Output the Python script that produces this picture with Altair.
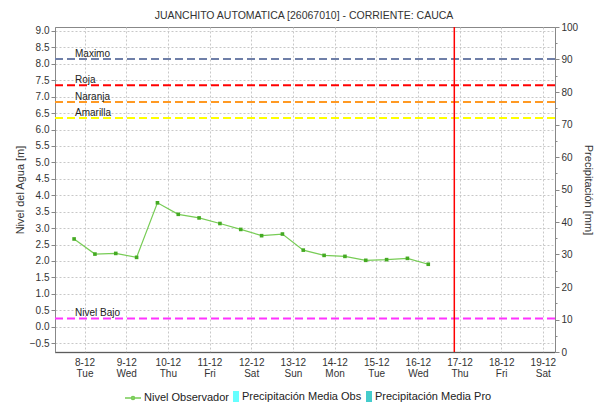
import altair as alt
import pandas as pd

FONT = "Liberation Sans"
TITLE = "JUANCHITO AUTOMATICA [26067010] - CORRIENTE: CAUCA"

# Observed water level (every 12 h)
obs_times = [
    "2020-12-07T18:00:00Z", "2020-12-08T06:00:00Z", "2020-12-08T18:00:00Z",
    "2020-12-09T06:00:00Z", "2020-12-09T18:00:00Z", "2020-12-10T06:00:00Z",
    "2020-12-10T18:00:00Z", "2020-12-11T06:00:00Z", "2020-12-11T18:00:00Z",
    "2020-12-12T06:00:00Z", "2020-12-12T18:00:00Z", "2020-12-13T06:00:00Z",
    "2020-12-13T18:00:00Z", "2020-12-14T06:00:00Z", "2020-12-14T18:00:00Z",
    "2020-12-15T06:00:00Z", "2020-12-15T18:00:00Z", "2020-12-16T06:00:00Z",
]
obs_levels = [2.67, 2.21, 2.23, 2.11, 3.77, 3.42, 3.31, 3.14, 2.96,
              2.77, 2.82, 2.33, 2.17, 2.14, 2.02, 2.04, 2.08, 1.90]

# Threshold levels
thr_names = ["Maximo", "Roja", "Naranja", "Amarilla", "Nivel Bajo"]
thr_values = [8.15, 7.35, 6.84, 6.35, 0.25]
thr_colors = ["#6F7FA8", "#FF0000", "#FF9922", "#FFFF00", "#FF33FF"]

# Current time marker
now_time = ["2020-12-16T21:00:00Z"]

# Legend series
level_series = ["Nivel Observador"]
precip_series = ["Precipitación Media Obs", "Precipitación Media Pro"]
precip_colors = ["#66FFFF", "#44CCCC"]

# Axis ticks
tick_days = [8, 9, 10, 11, 12, 13, 14, 15, 16, 17, 18, 19]
y_ticks = [-0.5, 0.0, 0.5, 1.0, 1.5, 2.0, 2.5, 3.0, 3.5, 4.0, 4.5, 5.0,
           5.5, 6.0, 6.5, 7.0, 7.5, 8.0, 8.5, 9.0]
y2_ticks = [0, 5, 10, 15, 20, 25, 30, 35, 40, 45, 50, 55, 60, 65, 70,
            75, 80, 85, 90, 95, 100]

obs_df = pd.DataFrame({"t": obs_times, "v": obs_levels,
                       "serie": level_series * len(obs_times)})
thr_df = pd.DataFrame({"name": thr_names, "v": thr_values})
now_df = pd.DataFrame({"t": now_time})
title_df = pd.DataFrame({"title": [TITLE]})
precip_df = pd.DataFrame({"t": [obs_times[0], obs_times[1]],
                          "p": [None, None],
                          "serie": precip_series})

grid_color = "#C8C8C8"
axis_color = "#888888"
text_color = "#333333"

x_scale = alt.Scale(type="utc", domain=[
    alt.DateTime(year=2020, month=12, date=7, hours=7, utc=True),
    alt.DateTime(year=2020, month=12, date=19, hours=7, utc=True)])
x_axis = alt.Axis(
    values=[alt.DateTime(year=2020, month=12, date=d, utc=True) for d in tick_days],
    labelExpr="[utcFormat(datum.value, '%-d-%m'), utcFormat(datum.value, '%a')]",
    title=None, ticks=False, labelPadding=5, labelLineHeight=11,
    labelFont=FONT, labelFontSize=10, labelColor=text_color,
    domainColor="#333333", domainDash=[1, 1], domainWidth=1.5,
    grid=True, gridColor=grid_color, gridDash=[2, 2], gridWidth=1,
    labelAlign="center", labelBaseline="top")
X = lambda: alt.X("t:T", scale=x_scale, axis=x_axis)

y_scale = alt.Scale(domain=[-0.77, 9.12], nice=False, zero=False)
y_axis = alt.Axis(
    values=y_ticks, format=".1f", title="Nivel del Agua [m]",
    titleFont=FONT, titleFontSize=11, titleFontWeight="normal",
    titleColor=text_color, titlePadding=4,
    labelFont=FONT, labelFontSize=10, labelColor=text_color, labelPadding=2,
    tickSize=4, tickColor=axis_color, domainColor=axis_color,
    grid=True, gridColor=grid_color, gridDash=[2, 2], gridWidth=1)
Y = lambda: alt.Y("v:Q", scale=y_scale, axis=y_axis)

title_mark = alt.Chart(title_df).mark_text(
    align="center", baseline="alphabetic", font=FONT, fontSize=10.5,
    color=text_color).encode(x=alt.value(249), y=alt.value(-8.5), text="title:N")

rules = alt.Chart(thr_df).mark_rule(strokeDash=[8, 4], strokeWidth=2).encode(
    y=Y(),
    color=alt.Color("name:N", scale=alt.Scale(domain=thr_names, range=thr_colors),
                    legend=None))

labels = alt.Chart(thr_df).mark_text(
    align="left", baseline="alphabetic", dy=-2, font=FONT, fontSize=10,
    color="#222222").encode(x=alt.value(20), y=Y(), text="name:N")

now_rule = alt.Chart(now_df).mark_rule(color="#FF0000", strokeWidth=1.5).encode(x=X())

line = alt.Chart(obs_df).mark_line(strokeWidth=1.2).encode(
    x=X(), y=Y(),
    stroke=alt.Stroke("serie:N",
                      scale=alt.Scale(domain=level_series, range=["#77CC55"]),
                      legend=alt.Legend(
                          orient="none", legendX=69, legendY=362,
                          direction="horizontal", title=None, padding=0,
                          symbolType="M-1,0L1,0M-0.2,0A0.2,0.2,0,1,0,0.2,0A0.2,0.2,0,1,0,-0.2,0",
                          symbolSize=256, symbolStrokeWidth=1.4,
                          labelFont=FONT, labelFontSize=11,
                          labelColor="#222222", labelOffset=2)))

points = alt.Chart(obs_df).mark_point(
    filled=True, shape="square", size=13, color="#44AA22", opacity=1).encode(
    x=X(), y=Y())

left = alt.layer(rules, labels, now_rule, line, points, title_mark)

precip = alt.Chart(precip_df).mark_square(size=40, opacity=1).encode(
    x=X(),
    y=alt.Y("p:Q", scale=alt.Scale(domain=[0, 100], nice=False),
            axis=alt.Axis(
                orient="right", values=y2_ticks, format="d",
                labelExpr="datum.value % 10 == 0 ? datum.label : ''",
                tickSize={"condition": {"test": "datum.value % 10 === 0", "value": 4},
                          "value": 2},
                title="Precipitación [mm]", titleFont=FONT, titleFontSize=11,
                titleFontWeight="normal", titleColor=text_color, titlePadding=5,
                labelFont=FONT, labelFontSize=10, labelColor=text_color,
                labelPadding=2, tickColor=axis_color, domainColor=axis_color,
                grid=False)),
    fill=alt.Fill("serie:N",
                  scale=alt.Scale(domain=precip_series, range=precip_colors),
                  legend=alt.Legend(
                      orient="none", legendX=175, legendY=364,
                      direction="horizontal", title=None, padding=0,
                      symbolType="M-0.5,-1L0.5,-1L0.5,1L-0.5,1Z",
                      symbolSize=144, symbolStrokeWidth=0,
                      columnPadding=1, labelOffset=0,
                      labelFont=FONT, labelFontSize=11, labelColor="#222222")))

chart = alt.layer(left, precip).resolve_scale(y="independent").properties(
    width=500, height=325,
    autosize=alt.AutoSizeParams(type="none"),
    padding={"left": 47, "top": 19, "right": 40, "bottom": 50},
    background="white",
).configure_view(stroke=axis_color, strokeWidth=1)

chart.save("out.html", embed_options={"renderer": "svg", "actions": False})
